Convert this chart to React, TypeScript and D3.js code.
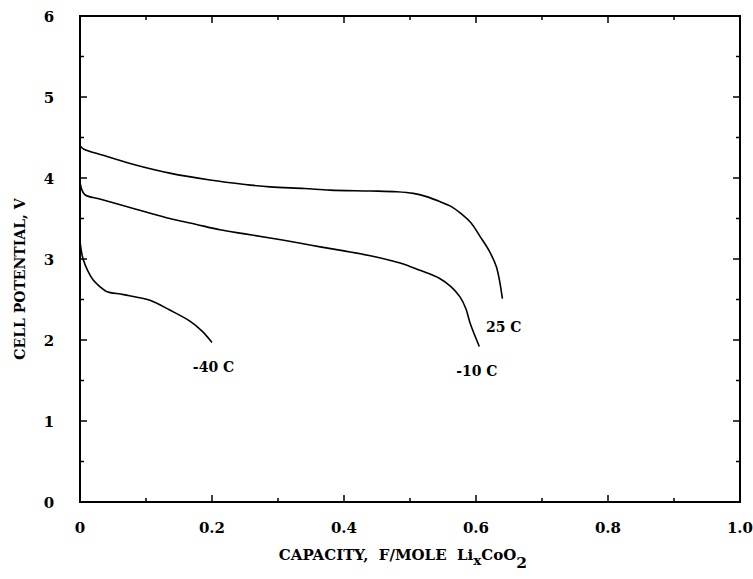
import React from "react";
import * as d3 from "d3";

const cap25 = [0, 0.005, 0.035, 0.08, 0.136, 0.197, 0.25, 0.288, 0.34, 0.379, 0.44, 0.48, 0.505, 0.525, 0.545, 0.562, 0.576, 0.592, 0.606, 0.62, 0.631, 0.640];
const volt25 = [4.4, 4.36, 4.28, 4.17, 4.06, 3.975, 3.92, 3.89, 3.87, 3.85, 3.84, 3.83, 3.81, 3.77, 3.71, 3.65, 3.57, 3.45, 3.28, 3.1, 2.9, 2.51];

const capM10 = [0, 0.003, 0.008, 0.03, 0.061, 0.1, 0.136, 0.175, 0.212, 0.25, 0.288, 0.33, 0.364, 0.4, 0.44, 0.485, 0.515, 0.545, 0.562, 0.576, 0.585, 0.591, 0.605];
const voltM10 = [3.95, 3.85, 3.79, 3.74, 3.67, 3.58, 3.50, 3.43, 3.36, 3.31, 3.26, 3.2, 3.15, 3.1, 3.04, 2.95, 2.86, 2.76, 2.66, 2.53, 2.38, 2.21, 1.92];

const capM40 = [0, 0.002, 0.005, 0.012, 0.02, 0.03, 0.04, 0.066, 0.106, 0.136, 0.167, 0.185, 0.2];
const voltM40 = [3.22, 3.1, 2.99, 2.85, 2.74, 2.66, 2.60, 2.56, 2.49, 2.37, 2.23, 2.11, 1.97];

const xTicks = [0, 0.2, 0.4, 0.6, 0.8, 1.0];
const xTickLabels = ["0", "0.2", "0.4", "0.6", "0.8", "1.0"];
const xMinor = [0.1, 0.3, 0.5, 0.7, 0.9];
const yTicks = [0, 1, 2, 3, 4, 5, 6];
const yMinor = [0.5, 1.5, 2.5, 3.5, 4.5, 5.5];

const seriesLabels = ["25 C", "-10 C", "-40 C"];
const labelPos = [[0.615, 2.1], [0.57, 1.56], [0.171, 1.605]];

export default function App() {
  const W = 753, H = 579;
  const L = 80, R = 740, T = 16, B = 502;
  const x = d3.scaleLinear().domain([0, 1]).range([L, R]);
  const y = d3.scaleLinear().domain([0, 6]).range([B, T]);
  const line = d3.line<[number, number]>().x(d => x(d[0])).y(d => y(d[1])).curve(d3.curveCatmullRom.alpha(0.5));
  const series = [
    cap25.map((c, i) => [c, volt25[i]] as [number, number]),
    capM10.map((c, i) => [c, voltM10[i]] as [number, number]),
    capM40.map((c, i) => [c, voltM40[i]] as [number, number]),
  ];
  const font = "'DejaVu Serif', 'Liberation Serif', serif";
  return (
    <svg width={W} height={H} style={{ position: "absolute", left: 0, top: 0, background: "#fff" }}>
      <rect x={L} y={T} width={R - L} height={B - T} fill="none" stroke="#000" strokeWidth={2} />
      {xTicks.map(t => (
        <g key={"xt" + t}>
          <line x1={x(t)} x2={x(t)} y1={B} y2={B - 7} stroke="#000" strokeWidth={1.5} />
          <line x1={x(t)} x2={x(t)} y1={T} y2={T + 7} stroke="#000" strokeWidth={1.5} />
        </g>
      ))}
      {xMinor.map(t => (
        <g key={"xm" + t}>
          <line x1={x(t)} x2={x(t)} y1={B} y2={B - 4} stroke="#000" strokeWidth={1.5} />
          <line x1={x(t)} x2={x(t)} y1={T} y2={T + 4} stroke="#000" strokeWidth={1.5} />
        </g>
      ))}
      {yTicks.map(t => (
        <g key={"yt" + t}>
          <line x1={L} x2={L + 7} y1={y(t)} y2={y(t)} stroke="#000" strokeWidth={1.5} />
          <line x1={R} x2={R - 7} y1={y(t)} y2={y(t)} stroke="#000" strokeWidth={1.5} />
        </g>
      ))}
      {yMinor.map(t => (
        <g key={"ym" + t}>
          <line x1={L} x2={L + 4} y1={y(t)} y2={y(t)} stroke="#000" strokeWidth={1.5} />
          <line x1={R} x2={R - 4} y1={y(t)} y2={y(t)} stroke="#000" strokeWidth={1.5} />
        </g>
      ))}
      {xTicks.map((t, i) => (
        <text key={"xl" + t} x={x(t)} y={533} textAnchor="middle" fontFamily={font} fontWeight="bold" fontSize={15}>{xTickLabels[i]}</text>
      ))}
      {yTicks.map(t => (
        <text key={"yl" + t} x={49} y={y(t) + 6} textAnchor="middle" fontFamily={font} fontWeight="bold" fontSize={15}>{t}</text>
      ))}
      {series.map((s, i) => (
        <path key={"s" + i} d={line(s) || ""} fill="none" stroke="#000" strokeWidth={1.6} />
      ))}
      {seriesLabels.map((lab, i) => (
        <text key={"lab" + i} x={x(labelPos[i][0])} y={y(labelPos[i][1])} fontFamily={font} fontWeight="bold" fontSize={14}>{lab}</text>
      ))}
      <text x={21} y={279} transform="rotate(-90 21 279)" textAnchor="middle" dominantBaseline="middle" fontFamily={font} fontWeight="bold" fontSize={14}>CELL POTENTIAL, V</text>
      <text x={403} y={560} textAnchor="middle" fontFamily={font} fontWeight="bold" fontSize={15} xmlSpace="preserve">
        {"CAPACITY,  F/MOLE  Li"}
        <tspan dy={5} fontSize={13.5}>x</tspan>
        <tspan dy={-5}>CoO</tspan>
        <tspan dy={8} fontSize={15.5}>2</tspan>
      </text>
    </svg>
  );
}
